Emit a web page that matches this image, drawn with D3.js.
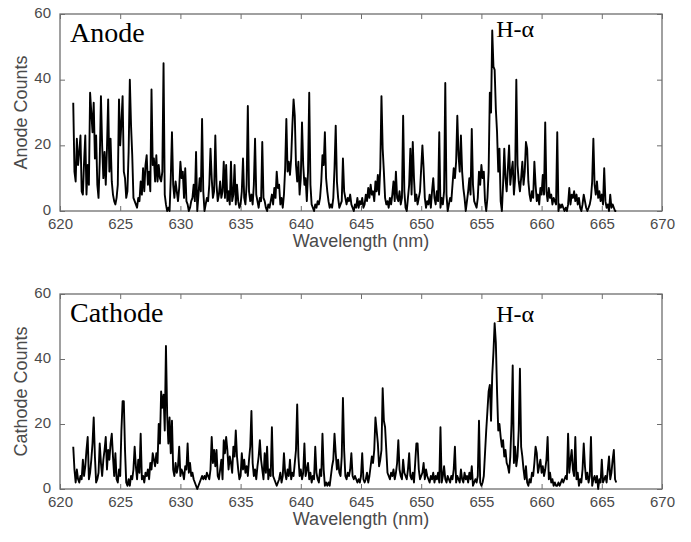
<!DOCTYPE html>
<html lang="en">
<head>
    <meta charset="UTF-8">
    <title>Anode / Cathode spectra</title>
    <script src="https://d3js.org/d3.v7.min.js"></script>
    <style>
        body { margin: 0; background: #fff; }
        .tick text { font-family: "Liberation Sans", Arial, sans-serif; font-size: 15px; fill: #4a4a4a; }
        .tick line { stroke: #6e6e6e; }
        .domain { display: none; }
    </style>
</head>
<body>
    <svg width="691" height="542"></svg>

    <script>
        const wlStart = 621.1;
        const wlStep = 0.1;

        const anodeCounts = [
            33,12,9,22,14,18,23,6,5,
            15,23,5,14,8,36,30,24,33,16,
            23,8,4,15,35,20,10,18,8,19,
            34,12,22,9,5,3,2,4,8,34,
            20,27,35,12,10,4,6,18,40,26,
            17,4,3,2,1,4,3,9,5,13,
            6,14,17,8,12,6,37,14,16,9,
            17,9,14,10,9,12,45,5,2,0,
            1,0,10,24,8,4,9,6,3,7,
            15,10,12,4,13,3,2,0,1,3,
            4,8,3,18,0,5,10,6,28,6,
            0,2,4,3,8,19,10,4,6,23,
            8,3,5,9,4,6,15,4,14,3,
            6,2,15,3,5,14,2,8,3,1,
            2,6,16,4,2,8,32,6,3,5,
            2,8,22,5,3,1,4,3,21,4,
            3,1,0,2,1,3,5,2,7,4,
            12,7,8,2,4,1,5,13,28,12,
            15,11,16,26,34,29,14,9,15,5,
            10,27,14,8,10,3,12,36,8,2,
            1,0,2,1,3,2,4,9,17,14,
            24,10,6,3,1,2,1,4,13,26,
            9,4,1,2,3,16,6,4,2,4,
            3,5,2,1,0,2,1,4,1,3,
            2,4,1,2,5,3,7,4,8,5,
            6,3,9,6,11,5,13,35,19,12,
            4,2,3,1,4,2,5,9,3,12,
            4,3,6,2,4,29,6,1,0,4,
            8,19,5,21,10,3,5,2,4,6,
            13,20,13,4,1,3,2,5,1,6,
            10,4,2,6,3,24,1,4,2,6,
            39,5,0,2,4,3,8,13,10,15,
            29,17,12,23,12,7,4,0,3,6,
            10,5,25,8,3,2,1,4,12,8,
            14,10,12,3,0,4,12,36,30,55,
            44,43,31,24,12,19,3,0,8,19,
            10,6,13,20,8,12,15,5,10,40,
            14,9,6,10,15,8,12,21,19,9,
            5,3,6,4,15,8,3,5,2,7,
            5,11,5,27,6,3,7,4,5,2,
            4,3,2,24,0,2,1,2,1,0,
            1,0,2,7,2,5,4,6,3,5,
            2,4,1,0,2,5,3,1,0,1,
            2,4,9,22,8,5,9,4,6,3,
            5,2,13,3,1,2,0,5,1,2,
            1,0,0
        ];

        const cathodeCounts = [
            13,6,2,6,3,2,4,3,9,
            4,7,12,16,3,5,9,14,22,10,
            2,3,5,14,8,4,9,12,16,6,
            12,9,14,17,10,4,11,3,2,6,
            4,18,27,27,12,2,1,3,1,4,
            3,6,13,7,3,9,5,17,3,4,
            2,5,4,6,3,8,6,11,9,7,
            11,8,20,14,30,25,29,18,44,23,
            14,22,11,21,6,4,8,5,7,13,
            4,6,5,3,7,6,14,5,8,4,
            5,3,2,1,0,1,2,3,4,3,
            4,3,5,4,3,6,16,8,12,7,
            12,4,3,6,9,3,15,11,16,12,
            6,10,8,5,13,10,18,10,6,3,
            4,11,6,9,5,7,4,9,13,24,
            8,4,6,3,7,10,15,9,6,3,
            11,5,13,3,6,4,19,4,3,2,
            1,2,3,5,2,4,11,5,3,6,
            4,9,3,5,4,8,12,26,10,4,
            6,3,5,14,4,6,8,3,5,2,
            4,3,13,5,3,2,6,4,17,6,
            1,2,1,2,1,4,7,9,17,11,
            6,9,5,4,10,28,12,4,3,5,
            4,6,11,4,3,4,3,2,3,2,
            4,11,3,2,3,5,2,4,7,10,
            8,12,22,18,14,7,9,12,31,21,
            19,12,5,4,3,5,4,6,3,5,
            8,15,6,4,3,9,5,4,3,6,
            11,4,3,5,2,8,14,14,6,3,
            4,5,8,3,6,4,3,2,4,3,
            5,2,4,3,5,2,19,2,4,7,
            3,2,4,3,2,4,3,6,13,2,
            4,3,2,6,3,2,5,3,4,2,
            5,3,7,1,2,3,2,4,21,2,
            1,2,4,11,18,24,30,32,21,35,
            42,51,45,30,18,20,16,13,15,10,
            12,8,7,5,10,20,38,8,13,7,
            10,18,37,13,10,6,3,7,2,1,
            3,2,5,4,8,13,11,5,7,9,
            5,7,4,6,9,16,3,5,2,3,
            1,2,1,1,2,1,2,3,2,3,
            4,3,17,5,9,12,6,4,16,3,
            5,1,3,2,6,14,7,3,5,2,
            4,16,1,3,4,2,4,0,3,2,
            9,2,3,4,2,6,10,3,5,9,
            12,3,2
        ];

        const xTicks = [620, 625, 630, 635, 640, 645, 650, 655, 660, 665, 670];
        const yTicks = [0, 20, 40, 60];
        const peakLabel = "H-\u03b1";
        const peakWavelength = 655.9;

        const panels = [
            { name: "Anode", yLabel: "Anode Counts", counts: anodeCounts, top: 14, bottom: 211, peakTop: 37 },
            { name: "Cathode", yLabel: "Cathode Counts", counts: cathodeCounts, top: 294, bottom: 489, peakTop: 322 }
        ];

        const left = 60, right = 662;
        const svg = d3.select("svg");

        const x = d3.scaleLinear().domain([620, 670]).range([left, right]);

        panels.forEach(p => {
            const y = d3.scaleLinear().domain([0, 60]).range([p.bottom, p.top]);
            const data = p.counts.map((c, i) => ({ wl: wlStart + i * wlStep, c }));

            // axes, ticks pointing inward
            svg.append("g")
                .attr("transform", `translate(0,${p.bottom})`)
                .call(d3.axisBottom(x).tickValues(xTicks).tickSize(-5).tickPadding(7));
            svg.append("g")
                .attr("transform", `translate(0,${p.top})`)
                .call(d3.axisTop(x).tickValues(xTicks).tickSize(-5).tickFormat(""));
            svg.append("g")
                .attr("transform", `translate(${left},0)`)
                .call(d3.axisLeft(y).tickValues(yTicks).tickSize(-5).tickPadding(9))
                .selectAll("text").attr("dy", "0.2em");
            svg.append("g")
                .attr("transform", `translate(${right},0)`)
                .call(d3.axisRight(y).tickValues(yTicks).tickSize(-5).tickFormat(""));

            // box
            svg.append("rect")
                .attr("x", left).attr("y", p.top)
                .attr("width", right - left).attr("height", p.bottom - p.top)
                .attr("fill", "none").attr("stroke", "#6e6e6e").attr("stroke-width", 1.3);

            // spectrum
            const line = d3.line().x(d => x(d.wl)).y(d => y(d.c));
            svg.append("path")
                .datum(data)
                .attr("fill", "none")
                .attr("stroke", "#000")
                .attr("stroke-width", 1.9)
                .attr("stroke-linejoin", "round")
                .attr("d", line);

            // axis titles
            svg.append("text")
                .attr("x", (left + right) / 2).attr("y", p.bottom + 36)
                .attr("text-anchor", "middle")
                .style("font-family", "'Liberation Sans', Arial, sans-serif")
                .style("font-size", "18px").style("fill", "#4a4a4a")
                .text("Wavelength (nm)");
            svg.append("text")
                .attr("transform", `translate(27,${(p.top + p.bottom) / 2}) rotate(-90)`)
                .attr("text-anchor", "middle")
                .style("font-family", "'Liberation Sans', Arial, sans-serif")
                .style("font-size", "18px").style("fill", "#4a4a4a")
                .text(p.yLabel);

            // panel name and peak annotation
            svg.append("text")
                .attr("x", left + 10).attr("y", p.top + 28)
                .style("font-family", "'Liberation Serif', 'Times New Roman', serif")
                .style("font-size", "28px").style("fill", "#000")
                .text(p.name);
            svg.append("text")
                .attr("x", x(peakWavelength) + 4).attr("y", p.peakTop)
                .style("font-family", "'Liberation Serif', 'Times New Roman', serif")
                .style("font-size", "24px").style("fill", "#000")
                .text(peakLabel);
        });
    </script>
</body>
</html>
